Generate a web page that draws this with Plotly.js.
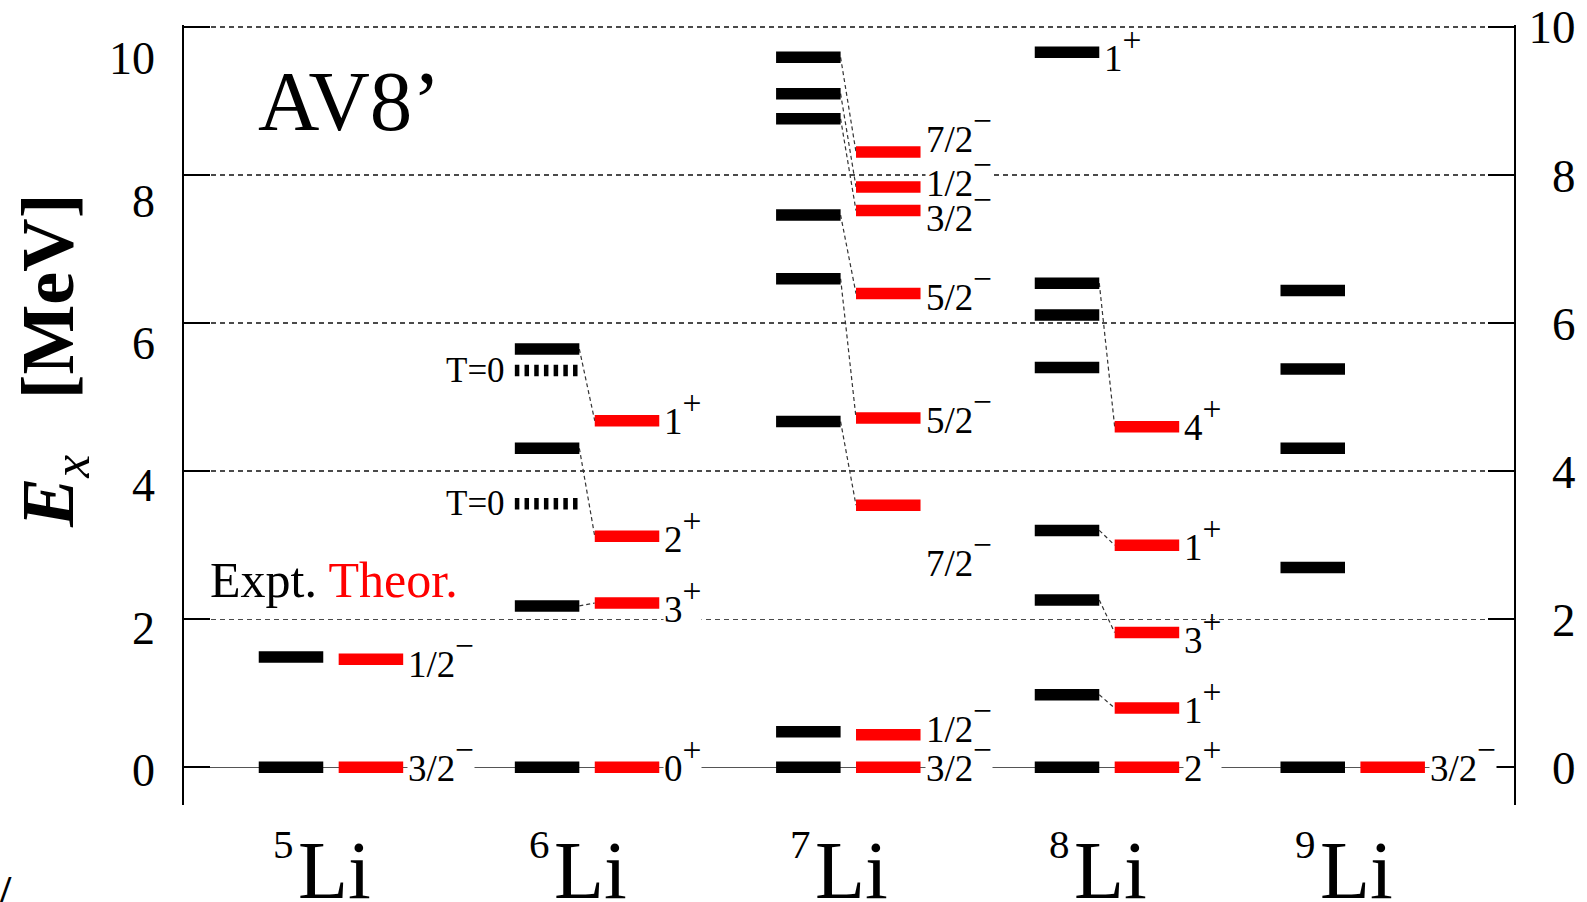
<!DOCTYPE html>
<html><head><meta charset="utf-8">
<script src="https://cdn.plot.ly/plotly-3.0.1.min.js"></script>
<style>html,body{margin:0;padding:0;background:#fff;} #chart{width:1587px;height:902px;}</style>
</head><body><div id="chart"></div>
<script>
// ================= DATA =================
const massNumbers = ['5', '6', '7', '8', '9'];
const elementName = 'Li';

// experimental levels (MeV)
const expt5 = [0, 1.49];
const expt6 = [0, 2.18, 4.31, 5.65];
const expt6T0 = [3.56, 5.36];           // dotted levels, marked T=0
const expt7 = [0, 0.48, 4.67, 6.60, 7.46, 8.76, 9.10, 9.59];
const expt8 = [0, 0.98, 2.26, 3.20, 5.40, 6.11, 6.54, 9.66];
const expt9 = [0, 2.70, 4.31, 5.38, 6.44];

// theoretical levels (MeV)
const theo5 = [0, 1.46];
const theo6 = [0, 2.22, 3.12, 4.68];
const theo7 = [0, 0.44, 3.54, 4.72, 6.40, 7.52, 7.84, 8.31];
const theo8 = [0, 0.80, 1.82, 3.00, 4.60];
const theo9 = [0];

// J and parity of theoretical levels
const spin5 = ['3/2', '1/2'];
const parity5 = ['−', '−'];
const spin6 = ['0', '3', '2', '1'];
const parity6 = ['+', '+', '+', '+'];
const spin7 = ['3/2', '1/2', '7/2', '5/2', '5/2', '3/2', '1/2', '7/2'];
const parity7 = ['−', '−', '−', '−', '−', '−', '−', '−'];
const spin8 = ['2', '1', '3', '1', '4'];
const parity8 = ['+', '+', '+', '+', '+'];
const spin9 = ['3/2'];
const parity9 = ['−'];

// energies at which the J^pi labels are written
const labelE5 = [0.0, 1.41];
const labelE6 = [0.0, 2.15, 3.10, 4.69];
const labelE7 = [0.01, 0.53, 2.77, 4.71, 6.37, 7.43, 7.91, 8.50];
const labelE8 = [0.0, 0.79, 1.74, 2.99, 4.61];
const labelE9 = [0.0];

// label on an experimental level of 8Li
const exptLabelIdx8 = [7];
const exptSpin8 = ['1'];
const exptParity8 = ['+'];

// correspondence lines: [expt index, theo index]
const links5 = [];
const links6 = [[1, 1], [2, 2], [3, 3]];
const links7 = [[2, 2], [3, 3], [4, 4], [5, 5], [6, 6], [7, 7]];
const links8 = [[1, 1], [2, 2], [3, 3], [6, 4]];
const links9 = [];

const yTicks = [0, 2, 4, 6, 8, 10];

// ================= LAYOUT HELPERS =================
const groups = [
  {expt: expt5, theo: theo5, spin: spin5, par: parity5, lab: labelE5, links: links5},
  {expt: expt6, theo: theo6, spin: spin6, par: parity6, lab: labelE6, links: links6},
  {expt: expt7, theo: theo7, spin: spin7, par: parity7, lab: labelE7, links: links7},
  {expt: expt8, theo: theo8, spin: spin8, par: parity8, lab: labelE8, links: links8},
  {expt: expt9, theo: theo9, spin: spin9, par: parity9, lab: labelE9, links: links9}
];
const groupX = [0, 0.99, 2, 3, 3.95];    // column position of each nucleus
const HW = 0.1247;                        // half bar width (x units)
const RED_OFF = 0.309;                    // theory column offset
const noBackground = {'3-2': true, '2-5': true, '2-1': true};   // labels drawn without white box
const drawLast = {'2-5': true};                                  // labels drawn on top of the others
const LABEL_YSHIFT = 7;

const W = 1587, H = 902;
const M = {l: 184, r: 73, t: 25, b: 97};
const PW = W - M.l - M.r, PH = H - M.t - M.b;
const px2paperX = px => (px - M.l) / PW;
const px2paperY = py => (H - M.b - py) / PH;

const FONT = 'Liberation Serif, Times New Roman, serif';
const GRID = {color: '#4a4a4a', width: 1.4, dash: '5px,4px'};
// J^pi text: J at 37px, parity as raised superscript (sup = 70% of the 48px base)
const jp = (j, p) => '<span style="font-size:37px">' + j + '</span><sup>' + p + '</sup>';

function seg(arr, x0, x1, ys) { ys.forEach(e => { arr.x.push(x0, x1, null); arr.y.push(e, e, null); }); }

const blk = {x: [], y: []}, red = {x: [], y: []}, dot = {x: [], y: []}, lnk = {x: [], y: []};
const annotations = [];
const lateAnnotations = [];

groups.forEach((g, i) => {
  const gx = groupX[i], rx = gx + RED_OFF;
  seg(blk, gx - HW, gx + HW, g.expt);
  seg(red, rx - HW, rx + HW, g.theo);
  g.links.forEach(([a, b]) => {
    lnk.x.push(gx + HW, rx - HW, null);
    lnk.y.push(g.expt[a], g.theo[b], null);
  });
  g.theo.forEach((e, k) => {
    const key = i + '-' + k;
    const a = {
      x: rx + HW, y: g.lab[k], xref: 'x', yref: 'y', xanchor: 'left', yanchor: 'middle',
      xshift: 4, yshift: LABEL_YSHIFT, showarrow: false, borderpad: 0,
      text: jp(g.spin[k], g.par[k]),
      font: {family: FONT, size: 48, color: '#000'}
    };
    if (!noBackground[key]) a.bgcolor = '#ffffff';
    (drawLast[key] ? lateAnnotations : annotations).push(a);
  });
  // nucleus label
  annotations.push({
    x: gx, y: px2paperY(871), xref: 'x', yref: 'paper', xanchor: 'left', yanchor: 'middle',
    xshift: 6, showarrow: false, borderpad: 0, text: elementName,
    font: {family: FONT, size: 82, color: '#000'}
  });
  annotations.push({
    x: gx, y: px2paperY(844), xref: 'x', yref: 'paper', xanchor: 'right', yanchor: 'middle',
    xshift: 4, showarrow: false, borderpad: 0, text: massNumbers[i],
    font: {family: FONT, size: 41, color: '#000'}
  });
});
// dotted T=0 levels in 6Li
seg(dot, groupX[1] - HW, groupX[1] + HW, expt6T0);
expt6T0.forEach(e => annotations.push({
  x: groupX[1] - HW, y: e, xref: 'x', yref: 'y', xanchor: 'right', yanchor: 'middle',
  xshift: -9, showarrow: false, borderpad: 0, text: 'T=0',
  font: {family: FONT, size: 35, color: '#000'}
}));
// 8Li experimental label
exptLabelIdx8.forEach((idx, k) => annotations.push({
  x: groupX[3] + HW, y: expt8[idx] - 0.07, xref: 'x', yref: 'y', xanchor: 'left', yanchor: 'middle',
  xshift: 4, yshift: LABEL_YSHIFT, showarrow: false, borderpad: 0,
  text: jp(exptSpin8[k], exptParity8[k]),
  font: {family: FONT, size: 48, color: '#000'}
}));
// AV8' tag
annotations.push({
  x: px2paperX(257), y: px2paperY(101), xref: 'paper', yref: 'paper', xanchor: 'left', yanchor: 'middle',
  showarrow: false, borderpad: 0, text: 'AV8’', font: {family: FONT, size: 85, color: '#000'}
});
// Expt. / Theor. legend
annotations.push({
  x: px2paperX(209), y: px2paperY(580), xref: 'paper', yref: 'paper', xanchor: 'left', yanchor: 'middle',
  showarrow: false, borderpad: 0,
  text: 'Expt. <span style="color:#ff0000">Theor.</span>', font: {family: FONT, size: 50, color: '#000'}
});
// y-axis title
annotations.push({
  x: px2paperX(53), y: px2paperY(361), xref: 'paper', yref: 'paper', xanchor: 'center', yanchor: 'middle',
  showarrow: false, borderpad: 0, textangle: -90,
  text: '<b><i>E</i></b><sub><i>x</i></sub>\u00a0\u00a0\u00a0<b>[MeV]</b>',
  font: {family: FONT, size: 74, color: '#000'}
});
// stray mark at lower-left corner
annotations.push({
  x: px2paperX(5), y: px2paperY(889), xref: 'paper', yref: 'paper', xanchor: 'center', yanchor: 'middle',
  showarrow: false, borderpad: 0, text: '<b>/</b>', font: {family: FONT, size: 40, color: '#000'}
});

const U = 258.67;  // px per x unit
const xRange = [(M.l - 291) / U, (W - M.r - 291) / U];

const traces = [
  {x: lnk.x, y: lnk.y, mode: 'lines', line: {color: '#333', width: 1.2, dash: '4px,3px'}, hoverinfo: 'skip'},
  {x: blk.x, y: blk.y, mode: 'lines', line: {color: '#000', width: 11.5}, hoverinfo: 'skip'},
  {x: dot.x, y: dot.y, mode: 'lines', line: {color: '#000', width: 11.5, dash: '4.5px,5.2px'}, hoverinfo: 'skip'},
  {x: red.x, y: red.y, mode: 'lines', line: {color: '#ff0000', width: 11.5}, hoverinfo: 'skip'},
  {x: [0], y: [0], yaxis: 'y2', mode: 'markers', marker: {opacity: 0}, hoverinfo: 'skip'},
  {x: [0], y: [0], yaxis: 'y3', mode: 'markers', marker: {opacity: 0}, hoverinfo: 'skip'}
];

const yRange = [-0.509, 10.027];
const topTick = yTicks[yTicks.length - 1];
const layout = {
  width: W, height: H, margin: M, showlegend: false,
  paper_bgcolor: '#fff', plot_bgcolor: '#fff',
  font: {family: FONT, color: '#000'},
  xaxis: {range: xRange, visible: false, fixedrange: true},
  yaxis: {
    range: yRange, showline: true, linewidth: 2, linecolor: '#000',
    ticks: 'inside', ticklen: 26, tickwidth: 2, tickcolor: '#000',
    tickmode: 'array', tickvals: yTicks, showticklabels: false,
    showgrid: true, gridcolor: GRID.color, gridwidth: GRID.width, griddash: GRID.dash,
    zeroline: true, zerolinecolor: '#555', zerolinewidth: 1.2, fixedrange: true
  },
  yaxis2: {
    range: yRange, overlaying: 'y', side: 'right', showline: true, linewidth: 2, linecolor: '#000',
    ticks: 'inside', ticklen: 26, tickwidth: 2, tickcolor: '#000',
    tickmode: 'array', tickvals: yTicks, ticktext: yTicks.map(v => (v < 10 ? '\u2007' : '') + v),
    tickfont: {family: FONT, size: 47, color: '#000'}, ticklabelstandoff: 3,
    showgrid: false, zeroline: false, fixedrange: true
  },
  yaxis3: {
    range: [-0.493, 10.465], overlaying: 'y', side: 'left', showline: false, ticks: '',
    tickmode: 'array', tickvals: yTicks, tickfont: {family: FONT, size: 46, color: '#000'},
    ticklabelstandoff: 28, showgrid: false, zeroline: false, fixedrange: true
  },
  shapes: [{
    type: 'line', xref: 'paper', x0: 0, x1: 1, yref: 'y', y0: topTick, y1: topTick,
    line: {color: GRID.color, width: GRID.width, dash: GRID.dash}, layer: 'below'
  }],
  annotations: annotations.concat(lateAnnotations)
};

Plotly.newPlot('chart', traces, layout, {displayModeBar: false, staticPlot: true});
</script>
</body></html>
